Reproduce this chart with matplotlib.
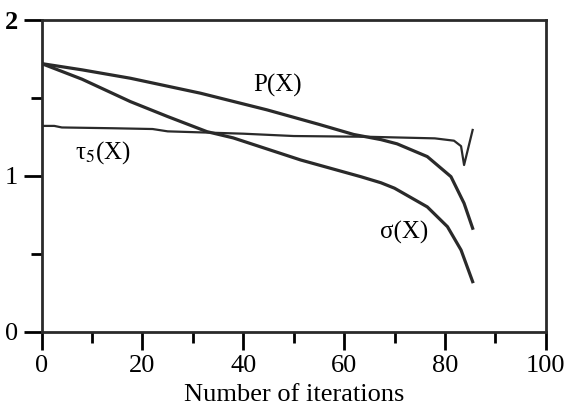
import matplotlib.pyplot as plt
from matplotlib.ticker import MultipleLocator

plt.rcParams['font.family'] = ['Liberation Serif', 'DejaVu Serif']
plt.rcParams['mathtext.fontset'] = 'stix'

# P(X)
p_x = [0, 8, 17.6, 31.5, 44.7, 55, 61.9, 67.3, 70.5, 76.5, 81.2, 83.8, 85.5]
p_y = [1.72, 1.68, 1.626, 1.53, 1.423, 1.33, 1.265, 1.232, 1.205, 1.123, 0.994, 0.823, 0.663]

# sigma(X)
s_x = [0, 8, 17.6, 25, 32.8, 38, 51.4, 63.3, 67.3, 70, 76.5, 80.5, 83.2, 85.5]
s_y = [1.72, 1.62, 1.476, 1.38, 1.283, 1.243, 1.101, 0.994, 0.955, 0.92, 0.80, 0.673, 0.523, 0.32]

# tau_5(X)
t_x = [0, 2.5, 4, 14, 22, 25, 40, 50, 65, 78, 81.8, 83.2, 83.8, 85.5]
t_y = [1.32, 1.32, 1.31, 1.305, 1.30, 1.285, 1.27, 1.255, 1.25, 1.24, 1.225, 1.19, 1.069, 1.294]

fig = plt.figure(figsize=(5.67, 4.08), dpi=100)
ax = fig.add_axes([0.0735, 0.1875, 0.889, 0.7635])

ax.plot(p_x, p_y, color='#2a2a2a', lw=2.3)
ax.plot(s_x, s_y, color='#2a2a2a', lw=2.3)
ax.plot(t_x, t_y, color='#2a2a2a', lw=1.6)

ax.text(46.7, 1.58, 'P(X)', fontsize=18, ha='center', va='center')
ax.text(12.2, 1.15, r'τ$_{5}$(X)', fontsize=18, ha='center', va='center')
ax.text(71.9, 0.633, 'σ(X)', fontsize=18, ha='center', va='center')

ax.set_xlim(0, 100)
ax.set_ylim(0, 2)
ax.set_xticks([0, 20, 40, 60, 80, 100])
ax.set_yticks([0, 1, 2])
ax.xaxis.set_minor_locator(MultipleLocator(10))
ax.yaxis.set_minor_locator(MultipleLocator(0.5))
ax.tick_params(which='major', direction='out', length=13, width=2, labelsize=19, pad=4)
ax.tick_params(which='minor', direction='out', length=8, width=2)
ax.tick_params(top=False, right=False, which='both')
for s in ax.spines.values():
    s.set_linewidth(2)
    s.set_color('#2a2a2a')
ax.get_yticklabels()[-1].set_fontweight('bold')

ax.set_xlabel('Number of iterations', fontsize=19, labelpad=5)

plt.savefig('out.png', dpi=100)
